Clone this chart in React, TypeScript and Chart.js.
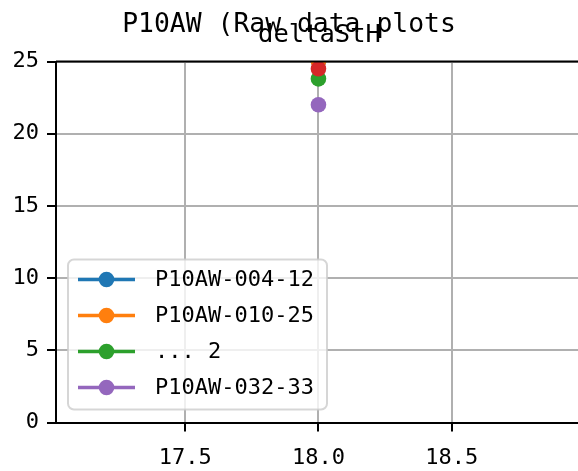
import React, { useEffect, useRef } from "react";
import { Chart, registerables } from "chart.js";
Chart.register(...registerables);

const FONT = "'DejaVu Sans Mono', monospace";

const seriesNames = ["P10AW-004-12", "P10AW-010-25", "... 2", "", "P10AW-032-33"];
const xValues = [18.0, 18.0, 18.0, 18.0, 18.0];
const yValues = [25.0, 25.0, 23.8, 24.5, 22.0];
const seriesColors = ["#1f77b4", "#ff7f0e", "#2ca02c", "#d62728", "#9467bd"];
const xTicks = [17.5, 18.0, 18.5];
const yTicks = [0, 5, 10, 15, 20, 25];
const xLimits = [17.015, 18.974];
const yLimits = [0, 25];
const titleText = "P10AW (Raw data plots";
const subtitleText = "deltaStH";

const decorPlugin = {
  id: "decor",
  afterDraw(chart: any) {
    const ctx = chart.ctx;
    const a = chart.chartArea;
    ctx.save();
    // top spine
    ctx.strokeStyle = "#000";
    ctx.lineWidth = 2;
    ctx.beginPath();
    ctx.moveTo(a.left, a.top);
    ctx.lineTo(a.right, a.top);
    ctx.stroke();

    // legend
    const entries = seriesNames
      .map((n, i) => ({ n, c: seriesColors[i] }))
      .filter((e) => e.n !== "");
    const rowH = 36;
    const bw = 259;
    const bh = 150;
    const bx = a.left + 12;
    const by = a.bottom - 13 - bh;
    const r = 6;
    ctx.beginPath();
    ctx.moveTo(bx + r, by);
    ctx.lineTo(bx + bw - r, by);
    ctx.arcTo(bx + bw, by, bx + bw, by + r, r);
    ctx.lineTo(bx + bw, by + bh - r);
    ctx.arcTo(bx + bw, by + bh, bx + bw - r, by + bh, r);
    ctx.lineTo(bx + r, by + bh);
    ctx.arcTo(bx, by + bh, bx, by + bh - r, r);
    ctx.lineTo(bx, by + r);
    ctx.arcTo(bx, by, bx + r, by, r);
    ctx.closePath();
    ctx.fillStyle = "rgba(255,255,255,0.8)";
    ctx.fill();
    ctx.strokeStyle = "rgba(204,204,204,0.8)";
    ctx.lineWidth = 2;
    ctx.stroke();
    entries.forEach((e, i) => {
      const cy = by + 20 + rowH * i;
      ctx.strokeStyle = e.c;
      ctx.lineWidth = 3.5;
      ctx.beginPath();
      ctx.moveTo(bx + 10, cy);
      ctx.lineTo(bx + 67, cy);
      ctx.stroke();
      ctx.fillStyle = e.c;
      ctx.beginPath();
      ctx.arc(bx + 38.5, cy, 7.8, 0, Math.PI * 2);
      ctx.fill();
      ctx.fillStyle = "#000";
      ctx.font = `22px ${FONT}`;
      ctx.textAlign = "left";
      ctx.textBaseline = "middle";
      ctx.fillText(e.n, bx + 87, cy + 1);
    });

    // titles
    ctx.fillStyle = "#000";
    ctx.textAlign = "center";
    ctx.textBaseline = "alphabetic";
    ctx.font = `26.4px ${FONT}`;
    ctx.fillText(titleText, chart.width / 2, 32);
    ctx.font = `25.5px ${FONT}`;
    ctx.fillText(subtitleText, 319.5, 42);
    ctx.restore();
  },
};

export default function App() {
  const ref = useRef<HTMLCanvasElement | null>(null);
  useEffect(() => {
    if (!ref.current) return;
    const n = yValues.length;
    const datasets = yValues.map((y, i) => ({
      label: seriesNames[i],
      data: [{ x: xValues[i], y }],
      showLine: false,
      pointRadius: 7.8,
      pointHoverRadius: 7.8,
      pointBorderWidth: 0,
      borderColor: seriesColors[i],
      backgroundColor: seriesColors[i],
      clip: 0,
      order: n - i,
    }));
    const tickFont = { family: FONT, size: 22 };
    const chart = new Chart(ref.current, {
      type: "line",
      data: { datasets },
      plugins: [decorPlugin],
      options: {
        animation: false,
        responsive: false,
        devicePixelRatio: 1,
        layout: { autoPadding: false, padding: { top: 61.5, right: 0, left: 0, bottom: 0 } },
        plugins: { legend: { display: false }, tooltip: { enabled: false }, title: { display: false } },
        scales: {
          x: {
            type: "linear",
            min: xLimits[0],
            max: xLimits[1],
            afterBuildTicks: (s: any) => {
              s.ticks = xTicks.map((value) => ({ value }));
            },
            afterFit: (s: any) => {
              s.height = 471 - 422.5;
              s.paddingRight = 0;
              s.paddingLeft = 0;
            },
            ticks: {
              callback: (v: any) => Number(v).toFixed(1),
              color: "#000",
              font: tickFont,
              padding: 14,
              maxRotation: 0,
              autoSkip: false,
            },
            grid: { color: "#b0b0b0", lineWidth: 2, tickColor: "#000", tickLength: 9, tickWidth: 2 },
            border: { color: "#000", width: 2 },
          },
          y: {
            type: "linear",
            min: yLimits[0],
            max: yLimits[1],
            afterBuildTicks: (s: any) => {
              s.ticks = yTicks.map((value) => ({ value }));
            },
            afterFit: (s: any) => {
              s.width = 56;
            },
            ticks: {
              callback: (v: any) => String(v),
              color: "#000",
              font: tickFont,
              padding: 8,
              autoSkip: false,
            },
            grid: { color: "#b0b0b0", lineWidth: 2, tickColor: "#000", tickLength: 9, tickWidth: 2 },
            border: { color: "#000", width: 2 },
          },
        },
      },
    } as any);
    return () => chart.destroy();
  }, []);
  return (
    <div style={{ position: "absolute", left: 0, top: 0, width: 578, height: 471, background: "#fff" }}>
      <canvas ref={ref} width={578} height={471} style={{ display: "block" }} />
    </div>
  );
}
